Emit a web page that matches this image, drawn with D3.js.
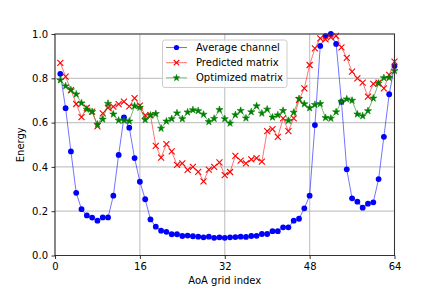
<!DOCTYPE html>
<html><head><meta charset="utf-8">
<script src="https://cdn.jsdelivr.net/npm/d3@7"></script>
<style>html,body{margin:0;padding:0;background:#fff;}svg{display:block;font-family:"DejaVu Sans",sans-serif;}</style>
</head><body>
<script>
const gridIndex = d3.range(1, 65);
const averageChannel = [0.82,0.665,0.47,0.283,0.209,0.181,0.171,0.157,0.172,0.172,0.27,0.454,0.624,0.577,0.44,0.333,0.254,0.163,0.13,0.112,0.107,0.096,0.096,0.088,0.09,0.087,0.085,0.082,0.085,0.08,0.082,0.08,0.082,0.083,0.085,0.084,0.088,0.089,0.097,0.097,0.11,0.11,0.127,0.127,0.157,0.166,0.213,0.27,0.589,0.946,0.99,1.0,0.955,0.694,0.389,0.258,0.243,0.216,0.234,0.24,0.345,0.536,0.728,0.855];
const predictedMatrix = [0.87,0.808,0.747,0.684,0.625,0.667,0.65,0.583,0.642,0.667,0.672,0.683,0.695,0.673,0.71,0.677,0.633,0.634,0.495,0.442,0.503,0.47,0.409,0.416,0.387,0.4,0.378,0.335,0.388,0.4,0.42,0.363,0.377,0.45,0.428,0.416,0.434,0.44,0.424,0.562,0.571,0.536,0.619,0.562,0.619,0.702,0.755,0.86,0.935,0.98,0.976,0.985,0.992,0.94,0.892,0.83,0.8,0.78,0.717,0.775,0.78,0.755,0.815,0.875];
const optimizedMatrix = [0.792,0.765,0.747,0.728,0.688,0.66,0.649,0.592,0.615,0.686,0.638,0.61,0.61,0.606,0.675,0.668,0.613,0.633,0.64,0.574,0.606,0.617,0.643,0.617,0.647,0.657,0.653,0.637,0.604,0.618,0.658,0.617,0.597,0.635,0.654,0.62,0.648,0.675,0.642,0.66,0.624,0.634,0.654,0.609,0.646,0.708,0.684,0.666,0.681,0.685,0.622,0.619,0.648,0.695,0.706,0.7,0.638,0.63,0.653,0.71,0.777,0.802,0.803,0.834];
const xTicks = [0,16,32,48,64];
const yTicks = [0,0.2,0.4,0.6,0.8,1.0];
const seriesNames = ["Average channel","Predicted matrix","Optimized matrix"];

const W = 439, H = 292;
const svg = d3.select("body").append("svg").attr("width", W).attr("height", H);
const x = d3.scaleLinear().domain([0,64]).range([55,394.5]);
const y = d3.scaleLinear().domain([0,1]).range([255.5,34]);

// grid
const g = svg.append("g");
g.selectAll(".gx").data(xTicks).enter().append("line")
  .attr("x1", d=>x(d)).attr("x2", d=>x(d)).attr("y1", y(0)).attr("y2", y(1))
  .attr("stroke", "#b0b0b0").attr("stroke-width", 1.2).attr("opacity", 0.7);
g.selectAll(".gy").data(yTicks).enter().append("line")
  .attr("y1", d=>y(d)).attr("y2", d=>y(d)).attr("x1", x(0)).attr("x2", x(64))
  .attr("stroke", "#b0b0b0").attr("stroke-width", 1.2).attr("opacity", 0.7);

const clip = svg.append("clipPath").attr("id","clip").append("rect")
  .attr("x", x(0)-6).attr("y", y(1)-6).attr("width", x(64)-x(0)+12).attr("height", y(0)-y(1)+12);

const series = [
  {name: seriesNames[0], values: averageChannel, color: "#0000ff", marker: "circle"},
  {name: seriesNames[1], values: predictedMatrix, color: "#ff0000", marker: "x"},
  {name: seriesNames[2], values: optimizedMatrix, color: "#008000", marker: "star"}
];
const line = d3.line().x((d,i)=>x(gridIndex[i])).y(d=>y(d));
const star = d3.symbol().type(d3.symbolStar).size(16);

function drawMarker(sel, type, color, cx, cy, scale) {
  scale = scale || 1;
  if (type === "circle") {
    sel.append("circle").attr("cx", cx).attr("cy", cy).attr("r", 2.9*scale).attr("fill", color);
  } else if (type === "x") {
    const s = 3*scale;
    sel.append("path").attr("d", `M${cx-s},${cy-s}L${cx+s},${cy+s}M${cx-s},${cy+s}L${cx+s},${cy-s}`)
      .attr("stroke", color).attr("stroke-width", 1.1).attr("fill", "none");
  } else {
    sel.append("path").attr("d", d3.symbol().type(d3.symbolStar).size(16*scale*scale)())
      .attr("transform", `translate(${cx},${cy})`).attr("fill", color).attr("stroke", color).attr("stroke-width", 0.6);
  }
}

const plot = svg.append("g").attr("clip-path", "url(#clip)");
series.forEach(s => {
  plot.append("path").attr("d", line(s.values)).attr("fill", "none")
    .attr("stroke", s.color).attr("stroke-width", 1).attr("opacity", 0.55);
  const mg = plot.append("g");
  s.values.forEach((v,i) => drawMarker(mg, s.marker, s.color, x(gridIndex[i]), y(v)));
});

// spines
svg.append("rect").attr("x", x(0)).attr("y", y(1)).attr("width", x(64)-x(0)).attr("height", y(0)-y(1))
  .attr("fill", "none").attr("stroke", "#333").attr("stroke-width", 1);

// axes
const xAxis = svg.append("g").attr("transform", `translate(0,${y(0)})`)
  .call(d3.axisBottom(x).tickValues(xTicks).tickSize(3.5).tickPadding(3.5).tickFormat(d3.format("d")));
const yAxis = svg.append("g").attr("transform", `translate(${x(0)},0)`)
  .call(d3.axisLeft(y).tickValues(yTicks).tickSize(3.5).tickPadding(3.5).tickFormat(d3.format(".1f")));
[xAxis, yAxis].forEach(a => {
  a.select(".domain").remove();
  a.selectAll("text").attr("font-size", 10).attr("font-family", "DejaVu Sans").attr("fill", "#000");
  a.selectAll("line").attr("stroke", "#000").attr("stroke-width", 0.8);
});

svg.append("text").attr("x", (x(0)+x(64))/2).attr("y", 284).attr("text-anchor", "middle")
  .attr("font-size", 10).text("AoA grid index");
svg.append("text").attr("transform", `translate(24,${(y(0)+y(1))/2}) rotate(-90)`).attr("text-anchor", "middle")
  .attr("font-size", 10).text("Energy");

// legend
const lg = svg.append("g");
lg.append("rect").attr("x", 162.5).attr("y", 40).attr("width", 124.5).attr("height", 47.5).attr("rx", 2.5)
  .attr("fill", "#fff").attr("fill-opacity", 0.8).attr("stroke", "#cccccc").attr("stroke-width", 1);
series.forEach((s, i) => {
  const ly = 47.5 + i*15.2;
  lg.append("line").attr("x1", 166).attr("x2", 187).attr("y1", ly).attr("y2", ly)
    .attr("stroke", s.color).attr("stroke-width", 1).attr("opacity", 0.55);
  drawMarker(lg, s.marker, s.color, 176.5, ly, 0.9);
  lg.append("text").attr("x", 196).attr("y", ly).attr("dy", "0.35em").attr("font-size", 10).text(s.name);
});
</script>
</body></html>
